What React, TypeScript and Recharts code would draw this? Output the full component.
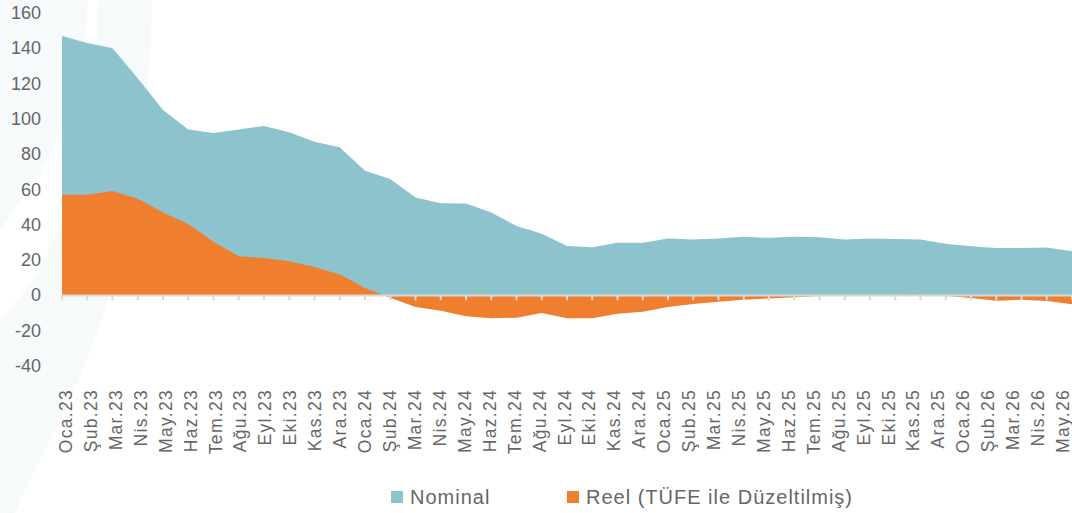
import { AreaChart, Area, XAxis, YAxis, ReferenceLine } from "recharts";

const months = [
  "Oca.23", "Şub.23", "Mar.23", "Nis.23", "May.23", "Haz.23", "Tem.23", "Ağu.23", "Eyl.23", "Eki.23", "Kas.23", "Ara.23",
  "Oca.24", "Şub.24", "Mar.24", "Nis.24", "May.24", "Haz.24", "Tem.24", "Ağu.24", "Eyl.24", "Eki.24", "Kas.24", "Ara.24",
  "Oca.25", "Şub.25", "Mar.25", "Nis.25", "May.25", "Haz.25", "Tem.25", "Ağu.25", "Eyl.25", "Eki.25", "Kas.25", "Ara.25",
  "Oca.26", "Şub.26", "Mar.26", "Nis.26", "May.26",
];

const nominal = [
  147, 143, 140, 123, 105, 94, 92, 94, 96, 92.5, 87, 84,
  70.6, 66, 55.4, 52.2, 52, 46.9, 39.3, 35, 28, 27.3, 29.8, 29.8,
  32.3, 31.7, 32.3, 33.2, 32.6, 33.2, 33, 31.7, 32.3, 31.9, 31.7, 29.2,
  27.9, 26.8, 26.8, 27.2, 25,
];

const reel = [
  57, 57, 59.2, 54.7, 46.9, 40.4, 30.4, 22.2, 21.2, 19.4, 16.1, 11.8,
  4.2, -1.4, -6.6, -8.7, -11.8, -13, -12.6, -10, -13, -13, -10.4, -9.2,
  -6.6, -4.9, -3.6, -2.4, -1.8, -1, -0.3, 0, 0, 0.3, 0.5, -0.3,
  -1.5, -3, -2.5, -3.2, -5,
];

const yTicks = [-40, -20, 0, 20, 40, 60, 80, 100, 120, 140, 160];

const TEAL = "#8dc3cc";
const ORANGE = "#ef7f2f";
const GRID = "#d9d9d9";
const TEXT = "#666666";
const FONT = "'Liberation Sans', Arial, sans-serif";

const data = months.map((m, i) => ({ month: m, nominal: nominal[i], reel: reel[i] }));

// labels in the original sit on a slightly narrower run (66 → 1063) than the data points (62 → 1072)
function MonthTick({ x = 0, y = 0, payload }: { x?: number; y?: number; payload?: { value?: string } }) {
  const lx = 66 + (x - 62) * (997 / 1010);
  return (
    <text
      transform={`translate(${lx},${y + 15}) rotate(-90)`}
      textAnchor="end"
      dominantBaseline="central"
      fill={TEXT}
      fontSize={17.5}
      letterSpacing={1.3}
      fontFamily={FONT}
    >
      {payload?.value}
    </text>
  );
}

function ValueTick({ y = 0, payload }: { y?: number; payload?: { value?: number } }) {
  return (
    <text x={41} y={y} textAnchor="end" dominantBaseline="central" fill={TEXT} fontSize={18} fontFamily={FONT}>
      {payload?.value}
    </text>
  );
}

function LegendItem({ color, label, left }: { color: string; label: string; left: number }) {
  return (
    <div style={{ position: "absolute", left, top: 486, display: "flex", alignItems: "center" }}>
      <span style={{ width: 12, height: 12, background: color, display: "inline-block", marginRight: 7 }} />
      <span style={{ fontFamily: FONT, fontSize: 20, letterSpacing: 1, color: TEXT, lineHeight: "22px" }}>{label}</span>
    </div>
  );
}

export default function App() {
  return (
    <div style={{ position: "absolute", left: 0, top: 0, width: 1072, height: 513, background: "#fff", overflow: "hidden" }}>
      {/* faint decorative swirl behind the plot */}
      <svg width={1072} height={513} style={{ position: "absolute", left: 0, top: 0 }}>
        <path d="M0,0 L88,0 C84,70 70,120 45,165 L0,230 Z" fill="#f6fafb" />
        <path d="M98,0 L152,0 C150,150 120,300 60,420 C40,460 25,490 15,513 L0,513 L0,320 C60,260 95,160 98,0 Z" fill="#f6fafb" />
      </svg>
      <div style={{ position: "absolute", left: 0, top: 0 }}>
        <AreaChart width={1072} height={466} data={data} margin={{ top: 13, right: 0, bottom: 0, left: 0 }}>
          <XAxis dataKey="month" interval={0} tickLine={false} axisLine={false} height={100} tick={MonthTick} />
          <YAxis
            domain={[-40, 160]}
            ticks={yTicks}
            width={62}
            axisLine={false}
            tickLine={false}
            tick={ValueTick}
          />
          <Area type="linear" dataKey="nominal" baseValue={0} stroke="none" fill={TEAL} fillOpacity={1} isAnimationActive={false} />
          <Area type="linear" dataKey="reel" baseValue={0} stroke="none" fill={ORANGE} fillOpacity={1} isAnimationActive={false} />
          <ReferenceLine y={0} stroke={GRID} strokeWidth={2} />
          {months.map((m) => (
            <ReferenceLine key={m} segment={[{ x: m, y: 0 }, { x: m, y: -2.8 }]} stroke={GRID} strokeWidth={2} />
          ))}
        </AreaChart>
      </div>
      <LegendItem color={TEAL} label="Nominal" left={391} />
      <LegendItem color={ORANGE} label="Reel (TÜFE ile Düzeltilmiş)" left={567} />
    </div>
  );
}
